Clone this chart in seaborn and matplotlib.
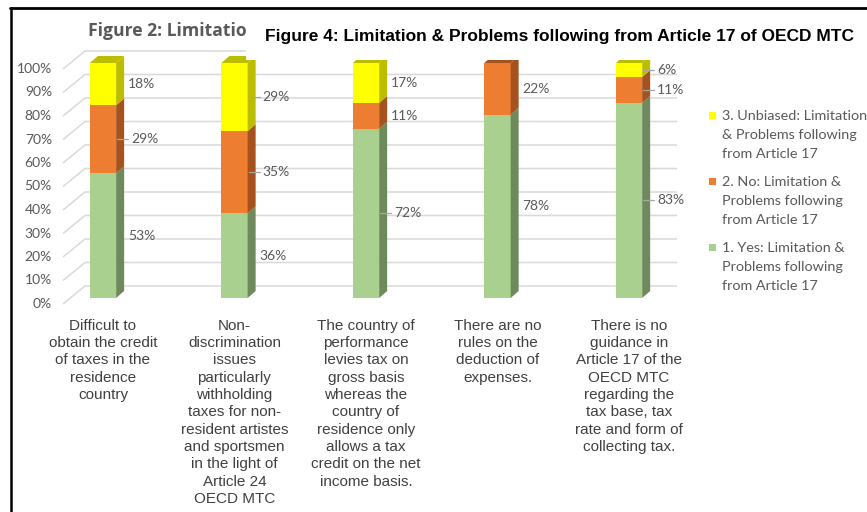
import matplotlib
matplotlib.use("Agg")
import matplotlib.pyplot as plt
import pandas as pd
import seaborn as sns
from matplotlib.patches import Polygon, Rectangle
from matplotlib.lines import Line2D
from matplotlib.transforms import ScaledTranslation

# ---- data -------------------------------------------------------------
categories = [
    "Difficult to\nobtain the credit\nof taxes in the\nresidence\ncountry",
    "Non-\ndiscrimination\nissues\nparticularly\nwithholding\ntaxes for non-\nresident artistes\nand sportsmen\nin the light of\nArticle 24\nOECD MTC",
    "The country of\nperformance\nlevies tax on\ngross basis\nwhereas the\ncountry of\nresidence only\nallows a tax\ncredit on the net\nincome basis.",
    "There are no\nrules on the\ndeduction of\nexpenses.",
    "There is no\nguidance in\nArticle 17 of the\nOECD MTC\nregarding the\ntax base, tax\nrate and form of\ncollecting tax.",
]
yes_pct = [53, 36, 72, 78, 83]
no_pct = [29, 35, 11, 22, 11]
unbiased_pct = [18, 29, 17, 0, 6]

legend_labels = [
    "3. Unbiased: Limitation\n& Problems following\nfrom Article 17",
    "2. No: Limitation &\nProblems following\nfrom Article 17",
    "1. Yes: Limitation &\nProblems following\nfrom Article 17",
]
y_ticks = list(range(0, 101, 10))
title_back = "Figure 2: Limitation"
title_main = "Figure 4: Limitation & Problems following from Article 17 of OECD MTC"

# ---- style ------------------------------------------------------------
sns.set_style("white")
plt.rcParams["font.family"] = ["Lato", "DejaVu Sans"]

GREEN, GREEN_SIDE = "#A9D08E", "#6E8A5C"
ORANGE, ORANGE_SIDE = "#ED7D31", "#A5521E"
YELLOW, YELLOW_SIDE = "#FFFF00", "#BDBD00"
GRID = "#D9D9D9"
LABEL = "#595959"

W, H = 867, 512
fig = plt.figure(figsize=(W / 100, H / 100), dpi=100)

# axes placed in pixel terms (front plane of the bars)
ax_l, ax_r, ax_b, ax_t = 63, 677, 298, 63
ax = fig.add_axes([ax_l / W, (H - ax_b) / H, (ax_r - ax_l) / W, (ax_b - ax_t) / H])
ax.set_zorder(1)

df = pd.DataFrame({"category": categories, "yes": yes_pct, "no": no_pct, "unbiased": unbiased_pct})
df["yes_no"] = df["yes"] + df["no"]
df["total"] = df["yes_no"] + df["unbiased"]

# stacked bars: draw cumulative totals front to back
for col, colr in [("total", YELLOW), ("yes_no", ORANGE), ("yes", GREEN)]:
    sns.barplot(data=df, x="category", y=col, color=colr, saturation=1,
                width=0.2, linewidth=0, ax=ax, zorder=3)

x0, x1 = -0.304, 4.365
ax.set_xlim(x0, x1)
ax.set_ylim(0, 100)
for s in ax.spines.values():
    s.set_visible(False)
ax.set_xlabel("")
ax.set_ylabel("")

px_x = (ax_r - ax_l) / (x1 - x0)
px_y = (ax_b - ax_t) / 100.0

# perspective gridlines (front floor edge -> back wall)
front_dy = -6 / px_y
back_dy = 12 / px_y
back_dx = 22 / px_x
for v in y_ticks:
    ax.plot([x0, x0 + back_dx, x1], [v + front_dy, v + back_dy, v + back_dy],
            color=GRID, lw=1.1, zorder=1, clip_on=False, solid_capstyle="butt")

# depth faces of the bars
dx = 8 / px_x
dy = 7 / px_y
green_bars = ax.patches[10:15]
for i, bar in enumerate(green_bars):
    xl = bar.get_x()
    xr = xl + bar.get_width()
    segs = [(0, yes_pct[i], GREEN_SIDE),
            (yes_pct[i], yes_pct[i] + no_pct[i], ORANGE_SIDE),
            (yes_pct[i] + no_pct[i], yes_pct[i] + no_pct[i] + unbiased_pct[i], YELLOW_SIDE)]
    segs = [s for s in segs if s[1] > s[0]]
    for b, t, c in segs:
        ax.add_patch(Polygon([(xr, b), (xr + dx, b + dy), (xr + dx, t + dy), (xr, t)],
                             closed=True, facecolor=c, edgecolor="none", zorder=3,
                             clip_on=False))
    top, topc = segs[-1][1], segs[-1][2]
    ax.add_patch(Polygon([(xl, top), (xr, top), (xr + dx, top + dy), (xl + dx, top + dy)],
                         closed=True, facecolor=topc, edgecolor="none", zorder=3,
                         clip_on=False))

# value labels
leader = {(0, 1), (1, 1), (1, 2), (2, 0), (4, 0), (4, 1), (4, 2)}
for i, bar in enumerate(green_bars):
    xr = bar.get_x() + bar.get_width()
    bottoms = [0, yes_pct[i], yes_pct[i] + no_pct[i]]
    vals = [yes_pct[i], no_pct[i], unbiased_pct[i]]
    for k, (b, v) in enumerate(zip(bottoms, vals)):
        if v == 0:
            continue
        yc = b + v / 2
        if (i, k) in leader:
            ax.plot([xr + 1 / px_x, xr + 12 / px_x], [yc, yc], color="#A6A6A6",
                    lw=0.9, zorder=4, clip_on=False)
            xt = xr + 15 / px_x
        else:
            xt = xr + 12 / px_x
        ax.text(xt, yc, f"{v}%", ha="left", va="center", fontsize=10,
                color=LABEL, zorder=5, clip_on=False)

# axis ticks
ax.set_yticks(y_ticks)
ax.set_yticklabels([f"{v}%" for v in y_ticks])
ax.tick_params(axis="y", length=0, pad=8, labelsize=10, labelcolor=LABEL)
shift = ScaledTranslation(0, -5 / 100, fig.dpi_scale_trans)
for lab in ax.get_yticklabels():
    lab.set_transform(lab.get_transform() + shift)

ax.tick_params(axis="x", length=0, pad=15)
for lab in ax.get_xticklabels():
    lab.set_fontfamily(["Liberation Sans", "DejaVu Sans"])
    lab.set_fontsize(11)
    lab.set_color("#404040")
    lab.set_linespacing(1.3)
    lab.set_verticalalignment("top")

# legend, drawn entry by entry
legend_colors = [YELLOW, ORANGE, GREEN]
legend_y = [115, 181, 247]
for lbl, c, yy in zip(legend_labels, legend_colors, legend_y):
    fig.patches.append(Rectangle(((709) / W, (H - yy - 4) / H), 7 / W, 7 / H,
                                 transform=fig.transFigure, facecolor=c,
                                 edgecolor="none", zorder=3))
    fig.text(722 / W, (H - yy + 5) / H, lbl, ha="left", va="top", fontsize=10.4,
             color=LABEL, linespacing=1.68, zorder=3)

# titles
fig.text(88 / W, (H - 31) / H, title_back, ha="left", va="center", fontsize=12.6,
         fontweight="bold", color=LABEL, zorder=4,
         fontfamily=["Open Sans", "DejaVu Sans"])
fig.patches.append(Rectangle((246 / W, (H - 60) / H), (W - 246) / W, 51 / H,
                             transform=fig.transFigure, facecolor="white",
                             edgecolor="none", zorder=5))
fig.text(265 / W, (H - 36) / H, title_main, ha="left", va="center", fontsize=12.5,
         fontweight="bold", color="black", zorder=6,
         fontfamily=["Liberation Sans", "DejaVu Sans"])

# frame lines
fig.lines.append(Line2D([10 / W, 1], [(H - 7.5) / H] * 2, transform=fig.transFigure,
                        color="black", lw=2.0, zorder=7))
fig.lines.append(Line2D([11 / W] * 2, [0, (H - 7.5) / H], transform=fig.transFigure,
                        color="black", lw=1.8, zorder=7))

fig.savefig("out.png", dpi=100, facecolor="white")
